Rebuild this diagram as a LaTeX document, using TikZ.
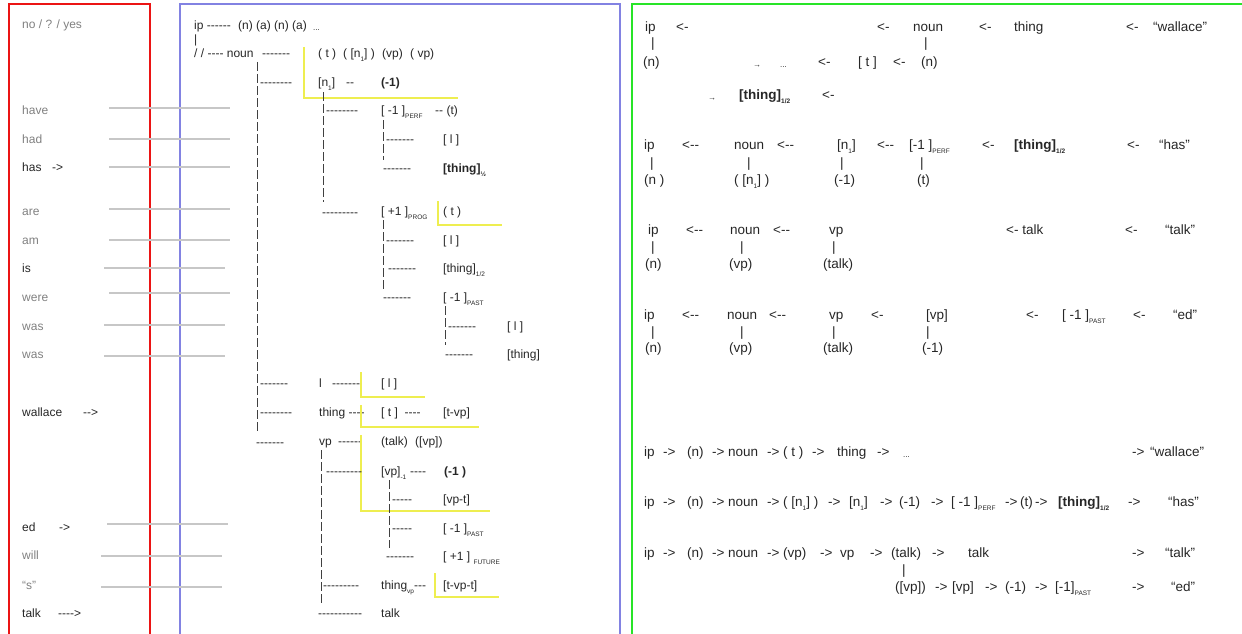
\documentclass[tikz,border=0pt]{standalone}
\usepackage{fontspec}
\newfontfamily\lsans{Liberation Sans}
\definecolor{boxred}{RGB}{235,20,20}
\definecolor{boxblue}{RGB}{130,130,226}
\definecolor{boxgreen}{RGB}{40,228,40}
\definecolor{hiyellow}{RGB}{238,238,80}
\newcommand{\lo}[1]{\raisebox{-0.6ex}{\fontsize{6.5}{7}\selectfont #1}}
\newcommand{\tinyf}{\fontsize{8}{9}\selectfont}

\begin{document}
\begin{tikzpicture}[x=1pt, y=-1pt, font=\lsans\fontsize{12}{14}\selectfont]
\tikzset{
  txt/.style={anchor=mid west, inner sep=0pt, yshift=-2.5pt, text=black!85},
  gtxt/.style={txt, text=black!50},
  bx/.style={txt, execute at begin node=\bfseries},
  yl/.style={draw=hiyellow, line width=1.3pt},
  gline/.style={draw=black!22, line width=1.3pt},
  trunk/.style={draw=black!75, line width=0.7pt, dash pattern=on 9pt off 3pt}
}
\useasboundingbox (0,0) rectangle (1242,634);
% the three panels
\draw[boxred, line width=2.6pt] (9,4) rectangle (150,645);
\draw[boxblue, line width=2pt] (180,4) rectangle (620,645);
\draw[boxgreen, line width=2.6pt] (632,4) rectangle (1255,645);

% left panel: forms
\foreach \y/\a/\b in {108/109/230, 139/109/230, 167/109/230, 209/109/230, 240/109/230, 268/104/225,
  293/109/230, 325/104/225, 356/104/225, 524/107/228, 556/101/222, 587/101/222}
  \draw[gline] (\a,\y) -- (\b,\y);
\node[gtxt] (yn) at (22,24) {no / ? / yes};
\foreach \y/\w in {110/have, 139/had, 211/are, 240/am, 297/were, 326/was, 354/was, 555/will, 585/“s”}
  \node[gtxt] (f-\y) at (22,\y) {\w};
\node[txt] (has) at (22,167) {has};
\node[txt] (has-a) at (52,167) {->};
\node[txt] (is) at (22,268) {is};
\node[txt] (wal) at (22,412) {wallace};
\node[txt] (wal-a) at (83,412) {-->};
\node[txt] (ed) at (22,527) {ed};
\node[txt] (ed-a) at (59,527) {->};
\node[txt] (talk) at (22,613) {talk};
\node[txt] (talk-a) at (58,613) {---->};

% middle panel: tree
\node[txt] (ip) at (194,25) {ip ------};
\node[txt] (ipa) at (238,25) {(n) (a) (n) (a)};
\node[txt, font=\lsans\tinyf] (ipd) at (313,26) {...};
\node[txt] (ipbar) at (194,39) {|};
\node[txt] (noun) at (194,53) {/ / ---- noun};
\node[txt] (noun-d) at (262,53) {-------};
\draw[trunk] (257,62) -- (257,432);
\node[txt] (b1) at (260,82) {--------};
\draw[yl] (304,47) -- (304,98) -- (458,98);
\node[txt] (t1) at (318,53) {( t )};
\node[txt] (t2) at (343,53) {( [n\lo{1}] )};
\node[txt] (t3) at (382,53) {(vp)};
\node[txt] (t4) at (410,53) {( vp)};
\node[txt] (n1) at (318,82) {[n\lo{1}]};
\node[txt] (n1-d) at (346,82) {--};
\node[bx] (m1) at (381,82) {(-1)};
\draw[trunk] (323,92) -- (323,202);
\node[txt] (b2) at (326,110) {--------};
\node[txt] (perf) at (381,110) {[ -1 ]\lo{PERF}};
\node[txt] (perf-t) at (435,110) {-- (t)};
\draw[trunk] (383,120) -- (383,160);
\node[txt] (b3) at (386,139) {-------};
\node[txt] (l1) at (443,139) {[ l ]};
\node[txt] (b4) at (383,168) {-------};
\node[bx] (th1) at (443,168) {[thing]\lo{½}};
\node[txt] (b5) at (322,212) {---------};
\node[txt] (prog) at (381,211) {[ +1 ]\lo{PROG}};
\draw[yl] (438,201) -- (438,225) -- (502,225);
\node[txt] (prog-t) at (443,211) {( t )};
\draw[trunk] (383,220) -- (383,290);
\node[txt] (b6) at (386,240) {-------};
\node[txt] (l2) at (443,240) {[ l ]};
\node[txt] (b7) at (388,268) {-------};
\node[txt] (th2) at (443,268) {[thing]\lo{1/2}};
\node[txt] (b8) at (383,297) {-------};
\node[txt] (past1) at (443,297) {[ -1 ]\lo{PAST}};
\draw[trunk] (445,306) -- (445,345);
\node[txt] (b9) at (448,326) {-------};
\node[txt] (l3) at (507,326) {[ l ]};
\node[txt] (b10) at (445,354) {-------};
\node[txt] (th3) at (507,354) {[thing]};
\node[txt] (b11) at (260,383) {-------};
\node[txt] (l4) at (319,383) {l};
\node[txt] (l4-d) at (332,383) {-------};
\draw[yl] (361,372) -- (361,397) -- (425,397);
\node[txt] (l5) at (381,383) {[ l ]};
\node[txt] (b12) at (260,412) {--------};
\node[txt] (thing) at (319,412) {thing ----};
\draw[yl] (361,405) -- (361,427) -- (479,427);
\node[txt] (tt) at (381,412) {[ t ]\ \ ----};
\node[txt] (tvp) at (443,412) {[t-vp]};
\node[txt] (b13) at (256,442) {-------};
\node[txt] (vp) at (319,441) {vp};
\node[txt] (vp-d) at (338,441) {------};
\draw[yl] (361,435) -- (361,511) -- (490,511);
\node[txt] (vtalk) at (381,441) {(talk)};
\node[txt] (vvp) at (415,441) {([vp])};
\draw[trunk] (321,450) -- (321,603);
\node[txt] (b14) at (326,471) {---------};
\node[txt] (vpm) at (381,471) {[vp]\lo{-1}};
\node[txt] (vpm-d) at (410,471) {----};
\node[bx] (m2) at (444,471) {(-1 )};
\draw[trunk] (389,480) -- (389,548);
\node[txt] (b15) at (392,499) {-----};
\node[txt] (vpt) at (443,499) {[vp-t]};
\node[txt] (b16) at (392,528) {-----};
\node[txt] (past2) at (443,528) {[ -1 ]\lo{PAST}};
\node[txt] (b17) at (386,556) {-------};
\node[txt] (fut) at (443,556) {[ +1 ] \lo{FUTURE}};
\node[txt] (b18) at (323,585) {---------};
\node[txt] (thvp) at (381,585) {thing\lo{vp}---};
\draw[yl] (435,573) -- (435,597) -- (499,597);
\node[txt] (tvpt) at (443,585) {[t-vp-t]};
\node[txt] (b19) at (318,613) {-----------};
\node[txt] (ttalk) at (381,613) {talk};

% right panel: derivations
\begin{scope}[font=\lsans\fontsize{13.5}{15}\selectfont]
\foreach \x/\t in {645/ip, 676/<-, 877/<-, 913/noun, 979/<-, 1014/thing, 1126/<-, 1153/“wallace”}
  \node[txt] (ra-\x) at (\x,27) {\t};
\foreach \x in {651,924} \node[txt] (rab-\x) at (\x,43) {|};
\foreach \x/\t in {643/(n), 921/(n), 818/<-, 858/{[ t ]}, 893/<-}
  \node[txt] (rb-\x) at (\x,62) {\t};
\node[txt, font=\lsans\tinyf] (rb-ar) at (753,63) {→};
\node[txt, font=\lsans\tinyf] (rb-dots) at (780,63) {...};
\node[txt, font=\lsans\tinyf] (rc-ar) at (708,96) {→};
\node[bx] (rc-th) at (739,95) {[thing]\lo{1/2}};
\node[txt] (rc-a) at (822,95) {<-};

\foreach \x/\t in {644/ip, 682/<--, 734/noun, 777/<--, 837/{[n\lo{1}]}, 877/<--, 909/{[-1 ]\lo{PERF}},
  982/<-, 1127/<-, 1159/“has”}
  \node[txt] (rd-\x) at (\x,145) {\t};
\node[bx] (rd-th) at (1014,145) {[thing]\lo{1/2}};
\foreach \x in {650,747,840,920} \node[txt] (rdb-\x) at (\x,163) {|};
\foreach \x/\t in {644/(n ), 734/{( [n\lo{1}] )}, 834/(-1), 917/(t)}
  \node[txt] (re-\x) at (\x,180) {\t};

\foreach \x/\t in {648/ip, 686/<--, 730/noun, 773/<--, 829/vp, 1006/<- talk, 1125/<-, 1165/“talk”}
  \node[txt] (rf-\x) at (\x,230) {\t};
\foreach \x in {651,740,832} \node[txt] (rfb-\x) at (\x,247) {|};
\foreach \x/\t in {645/(n), 729/(vp), 823/(talk)}
  \node[txt] (rg-\x) at (\x,264) {\t};

\foreach \x/\t in {644/ip, 682/<--, 727/noun, 769/<--, 829/vp, 871/<-, 926/{[vp]}, 1026/<-,
  1062/{[ -1 ]\lo{PAST}}, 1133/<-, 1173/“ed”}
  \node[txt] (rh-\x) at (\x,315) {\t};
\foreach \x in {651,740,832,926} \node[txt] (rhb-\x) at (\x,332) {|};
\foreach \x/\t in {645/(n), 729/(vp), 823/(talk), 922/(-1)}
  \node[txt] (ri-\x) at (\x,348) {\t};

% forward paths
\foreach \x/\t in {644/ip, 663/->, 687/(n), 712/->, 728/noun, 767/->, 783/( t ), 812/->, 837/thing,
  877/->, 1132/->, 1150/“wallace”}
  \node[txt] (rj-\x) at (\x,452) {\t};
\node[txt, font=\lsans\tinyf] (rj-dots) at (903,453) {...};
\foreach \x/\t in {644/ip, 663/->, 687/(n), 712/->, 728/noun, 767/->, 783/{( [n\lo{1}] )}, 828/->,
  849/{[n\lo{1}]}, 880/->, 899/(-1), 931/->, 951/{[ -1 ]\lo{PERF}}, 1005/->, 1020/(t), 1035/->,
  1128/->, 1168/“has”}
  \node[txt] (rk-\x) at (\x,502) {\t};
\node[bx] (rk-th) at (1058,502) {[thing]\lo{1/2}};
\foreach \x/\t in {644/ip, 663/->, 687/(n), 712/->, 728/noun, 767/->, 783/(vp), 820/->, 840/vp,
  870/->, 891/(talk), 932/->, 968/talk, 1132/->, 1165/“talk”}
  \node[txt] (rl-\x) at (\x,553) {\t};
\node[txt] (rl-bar) at (902,570) {|};
\foreach \x/\t in {895/{([vp])}, 935/->, 952/{[vp]}, 985/->, 1005/(-1), 1035/->,
  1055/{[-1]\lo{PAST}}, 1132/->, 1171/“ed”}
  \node[txt] (rm-\x) at (\x,587) {\t};
\end{scope}
\end{tikzpicture}
\end{document}
